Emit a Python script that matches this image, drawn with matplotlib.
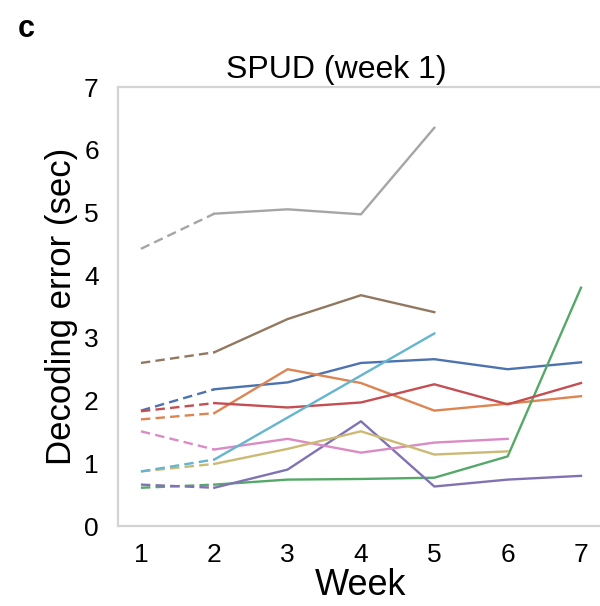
import numpy as np
import matplotlib
matplotlib.use("Agg")
import matplotlib.pyplot as plt

plt.rcParams['font.family'] = ['Liberation Sans', 'DejaVu Sans']

weeks = [1, 2, 3, 4, 5, 6, 7]
nan = np.nan

# decoding error (sec) per animal, one list per week
blue = [1.84, 2.18, 2.29, 2.60, 2.66, 2.50, 2.61]
orange = [1.70, 1.80, 2.50, 2.28, 1.84, 1.95, 2.07]
green = [0.61, 0.66, 0.74, 0.75, 0.77, 1.11, 3.80]
red = [1.83, 1.96, 1.89, 1.97, 2.26, 1.94, 2.28]
purple = [0.66, 0.61, 0.90, 1.67, 0.63, 0.74, 0.80]
brown = [2.60, 2.77, 3.30, 3.68, 3.41, nan, nan]
pink = [1.51, 1.22, 1.39, 1.17, 1.33, 1.39, nan]
gray = [4.42, 4.98, 5.05, 4.97, 6.35, nan, nan]
khaki = [0.87, 0.99, 1.23, 1.51, 1.14, 1.19, nan]
cyan = [0.87, 1.06, 1.73, 2.40, 3.07, nan, nan]

series = [blue, orange, green, red, purple, brown, pink, gray, khaki, cyan]
colors = ['#4c72b0', '#dd8452', '#55a868', '#c44e52', '#8172b3',
          '#937860', '#da8bc3', '#a5a5a5', '#ccb974', '#64b5cd']

fig = plt.figure(figsize=(6.0, 6.06), dpi=100)
ax = fig.add_axes([0.197, 0.132, 0.808, 0.7244])

for vals, col in zip(series, colors):
    vals = np.array(vals, dtype=float)
    # first week -> second week dashed, rest solid
    ax.plot(weeks[:2], vals[:2], color=col, lw=1.7, ls='--', dashes=(4, 2.2))
    ax.plot(weeks[1:], vals[1:], color=col, lw=1.7)

ax.set_xlim(0.69, 7.3)
ax.set_ylim(0, 7)
ax.set_xticks(weeks)
ax.set_yticks(range(0, 8))
ax.tick_params(length=0, labelsize=19, pad=14)
ax.tick_params(axis='x', pad=12)
for sp in ax.spines.values():
    sp.set_color('#d4d4d4')
    sp.set_linewidth(1.6)

ax.set_xlabel('Week', fontsize=26, labelpad=1)
ax.set_ylabel('Decoding error (sec)', fontsize=25, labelpad=4)
ax.text(0.45, 1.004, 'SPUD (week 1)', transform=ax.transAxes,
        ha='center', va='bottom', fontsize=23)
fig.text(0.03, 0.952, 'c', fontsize=22, fontweight='bold', va='center')

fig.savefig('out.png', dpi=100)
